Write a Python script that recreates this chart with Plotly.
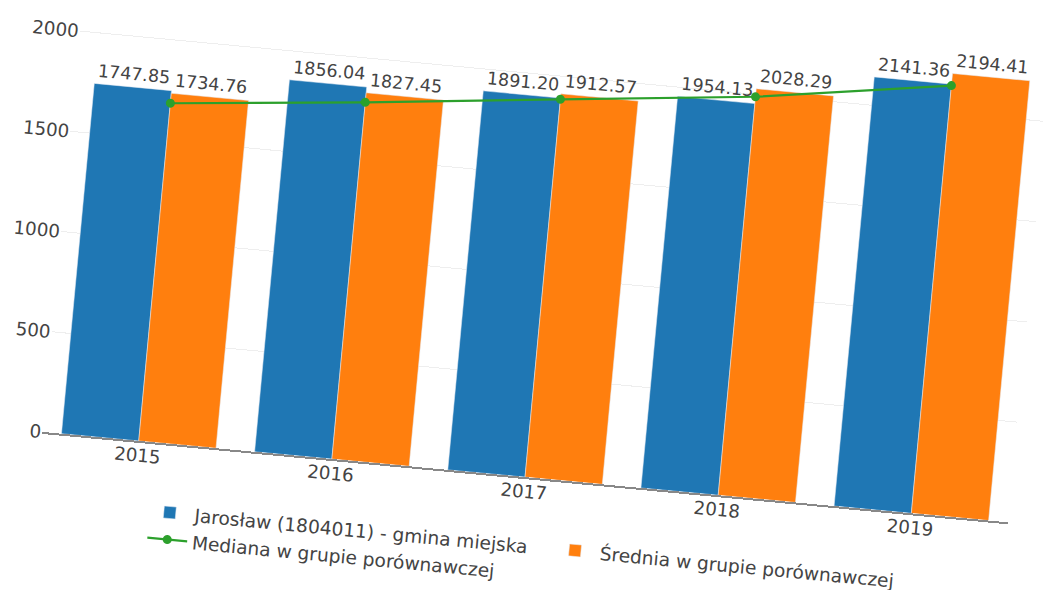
import plotly.graph_objects as go

years = ["2015", "2016", "2017", "2018", "2019"]
jaroslaw = [1747.85, 1856.04, 1891.20, 1954.13, 2141.36]
srednia = [1734.76, 1827.45, 1912.57, 2028.29, 2194.41]
mediana = [1685, 1780, 1885, 1988, 2134]

name_j = "Jarosław (1804011) - gmina miejska"
name_s = "Średnia w grupie porównawczej"
name_m = "Mediana w grupie porównawczej"

FONT = "DejaVu Sans"
TXT = "#444"

fig = go.Figure()
fig.add_trace(go.Bar(x=years, y=jaroslaw, name=name_j, marker_color="#1f77b4",
                     text=jaroslaw, texttemplate="%{y:.2f}", textposition="outside",
                     constraintext="none", cliponaxis=False,
                     textfont=dict(family=FONT, size=17.5, color=TXT)))
fig.add_trace(go.Bar(x=years, y=srednia, name=name_s, marker_color="#ff7f0e",
                     text=srednia, texttemplate="%{y:.2f}", textposition="outside",
                     constraintext="none", cliponaxis=False,
                     textfont=dict(family=FONT, size=17.5, color=TXT)))
fig.add_trace(go.Scatter(x=years, y=mediana, name=name_m, mode="lines+markers",
                         line=dict(color="#2ca02c", width=2.2),
                         marker=dict(color="#2ca02c", size=9), cliponaxis=False))

fig.update_layout(
    width=1043, height=590,
    margin=dict(l=57, r=16, t=11, b=114, autoexpand=False),
    paper_bgcolor="white", plot_bgcolor="white",
    barmode="group", bargap=0.2, bargroupgap=0,
    font=dict(family=FONT, size=18.3, color=TXT),
    showlegend=True,
    legend=dict(orientation="h", x=0.113, xanchor="left", y=-0.107, yanchor="top",
                entrywidth=352, itemwidth=40,
                font=dict(family=FONT, size=18.6, color=TXT)),
    xaxis=dict(showline=True, linecolor="#888", linewidth=1.5, showgrid=False,
               ticklabelstandoff=-3,
               tickfont=dict(family=FONT, size=18.3, color=TXT)),
    yaxis=dict(range=[0, 2310], dtick=500, showgrid=True, gridcolor="#eee",
               zeroline=False, showline=False,
               tickfont=dict(family=FONT, size=18.3, color=TXT)),
)

post = """
var gd = document.getElementById('{plot_id}');
document.documentElement.style.overflow = 'hidden';
document.body.style.margin = '0';
document.body.style.overflow = 'hidden';
gd.style.transformOrigin = '521.5px 295px';
gd.style.transform = 'rotate(5.35deg)';
"""

fig.write_html("out.html", post_script=post)
